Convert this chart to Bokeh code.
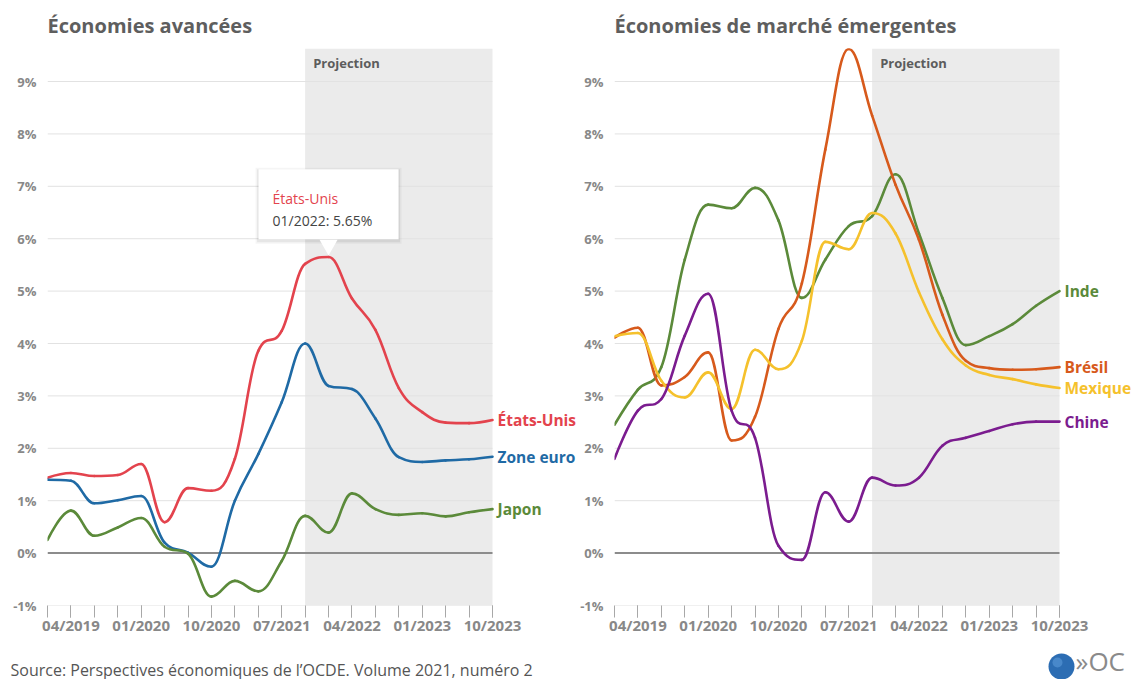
from bokeh.plotting import figure
from bokeh.models import (Range1d, FixedTicker, CustomJSTickFormatter, PrintfTickFormatter,
                          BoxAnnotation, Label)
from bokeh.layouts import row, column
from bokeh.embed import file_html
from bokeh.resources import INLINE

# ---------------- data ----------------
QUARTERS = ["01/2019", "04/2019", "07/2019", "10/2019", "01/2020", "04/2020", "07/2020", "10/2020",
            "01/2021", "04/2021", "07/2021", "10/2021", "01/2022", "04/2022", "07/2022", "10/2022",
            "01/2023", "04/2023", "07/2023", "10/2023"]
LABELED_QUARTERS = ["04/2019", "01/2020", "10/2020", "07/2021", "04/2022", "01/2023", "10/2023"]
PROJECTION_START = "10/2021"
Y_TICKS = [-1, 0, 1, 2, 3, 4, 5, 6, 7, 8, 9]

ADV_TITLE = "Économies avancées"
ADV_NAMES = ["États-Unis", "Zone euro", "Japon"]
US = [1.44, 1.53, 1.47, 1.49, 1.70, 0.59, 1.24, 1.19, 1.80, 3.86, 4.24, 5.52, 5.65, 4.86, 4.26,
      3.15, 2.69, 2.49, 2.48, 2.54]
EURO = [1.40, 1.38, 0.95, 1.01, 1.09, 0.20, 0.01, -0.26, 1.00, 1.89, 2.88, 4.00, 3.19, 3.13, 2.57,
        1.83, 1.74, 1.77, 1.79, 1.84]
JAPAN = [0.25, 0.81, 0.33, 0.49, 0.67, 0.12, -0.01, -0.83, -0.53, -0.73, -0.15, 0.71, 0.39, 1.14,
         0.84, 0.73, 0.76, 0.70, 0.78, 0.84]

EME_TITLE = "Économies de marché émergentes"
EME_NAMES = ["Inde", "Brésil", "Mexique", "Chine"]
INDIA = [2.45, 3.12, 3.55, 5.60, 6.65, 6.58, 6.97, 6.35, 4.87, 5.60, 6.24, 6.43, 7.23, 6.10, 4.87,
         3.97, 4.14, 4.37, 4.72, 5.00]
BRAZIL = [4.11, 4.30, 3.20, 3.36, 3.83, 2.15, 2.60, 4.28, 5.15, 7.70, 9.62, 8.35, 7.03, 5.98, 4.55,
          3.67, 3.53, 3.50, 3.51, 3.55]
MEXICO = [4.14, 4.20, 3.29, 2.97, 3.45, 2.75, 3.88, 3.51, 4.05, 5.94, 5.80, 6.49, 6.10, 4.98, 4.08,
          3.58, 3.40, 3.32, 3.22, 3.15]
CHINA = [1.80, 2.72, 2.94, 4.15, 4.95, 2.72, 2.20, 0.14, -0.13, 1.16, 0.60, 1.44, 1.29, 1.44, 2.05,
         2.20, 2.33, 2.46, 2.51, 2.51]

TOOLTIP_SERIES = "États-Unis"
TOOLTIP_DATE = "01/2022"
SOURCE = "Source: Perspectives économiques de l’OCDE. Volume 2021, numéro 2"
LOGO_TEXT = "»OC"

# ---------------- style / geometry ----------------
FONT = "Open Sans"
C_US, C_EURO, C_JAPAN = "#e3434d", "#1f6aa5", "#5b8a3a"
C_INDIA, C_BRAZIL, C_MEXICO, C_CHINA = "#5b8a3a", "#d75a1c", "#f5c12c", "#7b1c8f"
PAGE_W, PAGE_H = 1136, 679
FOOT_H = 39
H = PAGE_H - FOOT_H
TOP = 47
FRAME_H = 558
PLOT_W = 445            # pixel width of the quarterly data area
Y_MIN, Y_MAX = -1, 9.63
PPU = FRAME_H / (Y_MAX - Y_MIN)
X = list(range(len(QUARTERS)))
LAST = X[-1]


def spline(xs, ys, smoothing=1.5):
    n = len(xs)
    lc, rc = [None] * n, [None] * n
    for i in range(n):
        x, y = xs[i], ys[i]
        if 0 < i < n - 1:
            lx, ly, nx, ny = xs[i - 1], ys[i - 1], xs[i + 1], ys[i + 1]
            d = smoothing + 1
            lcx, lcy = (smoothing * x + lx) / d, (smoothing * y + ly) / d
            rcx, rcy = (smoothing * x + nx) / d, (smoothing * y + ny) / d
            corr = ((rcy - lcy) * (rcx - x)) / (rcx - lcx) + y - rcy
            lcy += corr
            rcy += corr
            if lcy > ly and lcy > y:
                lcy = max(ly, y); rcy = 2 * y - lcy
            elif lcy < ly and lcy < y:
                lcy = min(ly, y); rcy = 2 * y - lcy
            if rcy > ny and rcy > y:
                rcy = max(ny, y); lcy = 2 * y - rcy
            elif rcy < ny and rcy < y:
                rcy = min(ny, y); lcy = 2 * y - rcy
            lc[i], rc[i] = (lcx, lcy), (rcx, rcy)
        else:
            lc[i] = rc[i] = (x, y)
    return dict(x0=xs[:-1], y0=ys[:-1], x1=xs[1:], y1=ys[1:],
                cx0=[rc[i][0] for i in range(n - 1)], cy0=[rc[i][1] for i in range(n - 1)],
                cx1=[lc[i][0] for i in range(1, n)], cy1=[lc[i][1] for i in range(1, n)])


def make_panel(title, names, series, colors, width, border_left):
    frame_w = width - border_left
    x_end = LAST * frame_w / PLOT_W
    p = figure(width=width, height=H, output_backend="svg", toolbar_location=None,
               title=title, x_range=Range1d(0, x_end), y_range=Range1d(Y_MIN, Y_MAX),
               min_border_left=border_left, min_border_right=0,
               min_border_top=TOP, min_border_bottom=H - TOP - FRAME_H)
    p.outline_line_color = None
    p.background_fill_color = "white"
    p.border_fill_color = "white"
    p.grid.grid_line_color = None

    p.title.align = "left"
    p.title.offset = 0
    p.title.standoff = 19
    p.title.text_font = FONT
    p.title.text_font_size = "20px"
    p.title.text_font_style = "bold"
    p.title.text_color = "#5e5e5e"

    p.add_layout(BoxAnnotation(left=QUARTERS.index(PROJECTION_START), right=LAST,
                               fill_color="#ebebeb", fill_alpha=1, line_color=None,
                               level="image"))
    # horizontal grid lines over the data area only, and the zero line
    grid_ticks = [t for t in Y_TICKS if t != 0]
    p.segment(x0=[0] * len(grid_ticks), x1=[LAST] * len(grid_ticks), y0=grid_ticks,
              y1=grid_ticks, line_color="#e2e2e2", line_width=1, level="underlay")
    p.segment(x0=[0], x1=[LAST], y0=[0], y1=[0], line_color="#8c8c8c", line_width=2,
              level="underlay")

    xa = p.xaxis[0]
    label_idx = [QUARTERS.index(q) for q in LABELED_QUARTERS]
    xa.ticker = FixedTicker(ticks=label_idx, minor_ticks=X)
    xa.formatter = CustomJSTickFormatter(args=dict(labels=QUARTERS),
                                         code="return labels[Math.round(tick)] || '';")
    xa.axis_line_color = None
    xa.major_tick_in = 0
    xa.minor_tick_in = 0
    xa.major_tick_out = 12
    xa.minor_tick_out = 12
    xa.major_tick_line_color = "#a8a8a8"
    xa.minor_tick_line_color = "#a8a8a8"
    xa.major_label_standoff = -3
    xa.major_label_text_font = FONT
    xa.major_label_text_font_size = "15px"
    xa.major_label_text_font_style = "bold"
    xa.major_label_text_color = "#888888"

    ya = p.yaxis[0]
    ya.ticker = FixedTicker(ticks=Y_TICKS)
    ya.formatter = PrintfTickFormatter(format="%d%%")
    ya.axis_line_color = None
    ya.major_tick_line_color = None
    ya.minor_tick_line_color = None
    ya.major_tick_out = 0
    ya.minor_tick_out = 0
    ya.major_tick_in = 0
    ya.minor_tick_in = 0
    ya.major_label_standoff = 11
    ya.major_label_text_font = FONT
    ya.major_label_text_font_size = "13px"
    ya.major_label_text_font_style = "bold"
    ya.major_label_text_color = "#888888"

    for name, ys, col in zip(names, series, colors):
        p.bezier(line_color=col, line_width=2.6, line_cap="round", **spline(X, ys))
        p.add_layout(Label(x=LAST, y=ys[-1], x_offset=5, text=name, text_color=col,
                           text_font=FONT, text_font_size="15.5px", text_font_style="bold",
                           text_baseline="middle", text_align="left"))

    p.add_layout(Label(x=QUARTERS.index(PROJECTION_START), y=Y_MAX, x_offset=8, y_offset=-5,
                       text="Projection", text_font=FONT, text_font_size="13px",
                       text_font_style="bold", text_color="#5c5c5c", text_baseline="top"))
    return p


LEFT_W = 577
left = make_panel(ADV_TITLE, ADV_NAMES, [US, EURO, JAPAN], [C_US, C_EURO, C_JAPAN], LEFT_W, 47)
right = make_panel(EME_TITLE, EME_NAMES, [INDIA, BRAZIL, MEXICO, CHINA],
                   [C_INDIA, C_BRAZIL, C_MEXICO, C_CHINA], PAGE_W - LEFT_W, 614 - LEFT_W)

# tooltip on the highlighted point
hx = QUARTERS.index(TOOLTIP_DATE)
hy = dict(zip(ADV_NAMES, [US, EURO, JAPAN]))[TOOLTIP_SERIES][hx]
tip_c = hy + 53 / PPU
for w, h, a in [(146, 76, 0.04), (143, 73, 0.06)]:
    left.rect(x=[hx], y=[tip_c - 1.5 / PPU], width=[w], height=[h], width_units="screen",
              height_units="screen", fill_color="black", fill_alpha=a, line_color=None)
left.rect(x=[hx], y=[tip_c], width=[140], height=[70], width_units="screen",
          height_units="screen", fill_color="white", line_color=None)
left.scatter(x=[hx], y=[hy + 12 / PPU], marker="inverted_triangle", size=18,
             fill_color="white", line_color=None)
left.add_layout(Label(x=hx, y=hy, x_offset=-56, y_offset=59, text=TOOLTIP_SERIES,
                      text_color=C_US, text_font=FONT, text_font_size="14px",
                      text_baseline="alphabetic"))
left.add_layout(Label(x=hx, y=hy, x_offset=-56, y_offset=36.5,
                      text=f"{TOOLTIP_DATE}: {hy:.2f}%", text_color="#444444",
                      text_font=FONT, text_font_size="14px", text_baseline="alphabetic"))

# footer strip: source note and logo (frame in pixel-like units)
foot = figure(width=PAGE_W, height=FOOT_H, output_backend="svg", toolbar_location=None,
              x_range=Range1d(0, PAGE_W), y_range=Range1d(0, FOOT_H),
              x_axis_type=None, y_axis_type=None, min_border=0)
foot.outline_line_color = None
foot.grid.visible = False
foot.add_layout(Label(x=10, y=10, text=SOURCE, text_font=FONT, text_font_size="16px",
                      text_color="#555555", text_baseline="alphabetic"))
foot.scatter(x=[1061], y=[13], marker="circle", size=26, fill_color="#2c6db3",
             line_color=None)
foot.scatter(x=[1057], y=[17], marker="circle", size=10, fill_color="#5b9bd8",
             fill_alpha=0.6, line_color=None)
foot.add_layout(Label(x=1075, y=19, text=LOGO_TEXT, text_font=FONT, text_font_size="26px",
                      text_color="#8a8a8a", text_baseline="middle", text_align="left"))

layout = column(row(left, right), foot)
open("out.html", "w").write(file_html(layout, INLINE))
